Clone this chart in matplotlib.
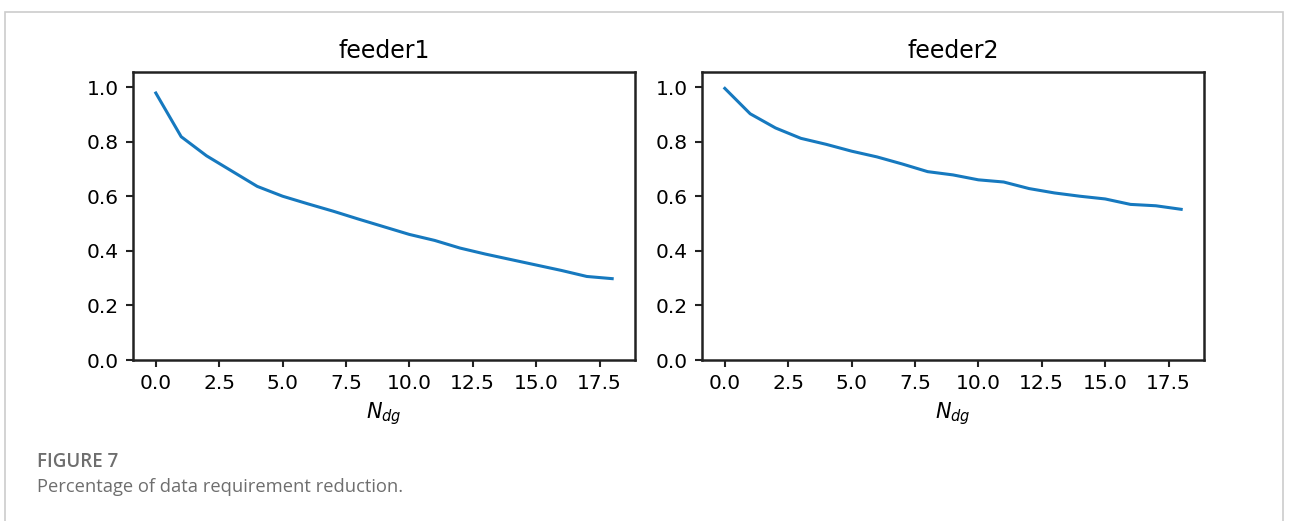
import matplotlib.pyplot as plt
from matplotlib.patches import Rectangle

# data
n_dg = list(range(19))
feeder1 = [0.978, 0.818, 0.748, 0.692, 0.636, 0.600, 0.572, 0.545, 0.516,
           0.488, 0.460, 0.438, 0.410, 0.388, 0.368, 0.348, 0.328, 0.306, 0.298]
feeder2 = [0.995, 0.902, 0.850, 0.812, 0.790, 0.765, 0.744, 0.718, 0.690,
           0.678, 0.660, 0.652, 0.628, 0.612, 0.600, 0.590, 0.570, 0.565, 0.552]
titles = ["feeder1", "feeder2"]
line_color = "#1679bf"

fig = plt.figure(figsize=(12.9, 5.21), dpi=100)

# light frame around the figure (open at the bottom)
fig.patches.append(Rectangle((5 / 1290, -0.05), 1278 / 1290, 1.05 - 12 / 521,
                             transform=fig.transFigure, fill=False,
                             edgecolor="#cccccc", linewidth=1.2))

axes_pos = [[133 / 1290, 1 - 360 / 521, 502 / 1290, 288 / 521],
            [702 / 1290, 1 - 360 / 521, 502 / 1290, 288 / 521]]

for pos, ys, title in zip(axes_pos, [feeder1, feeder2], titles):
    ax = fig.add_axes(pos)
    ax.plot(n_dg, ys, color=line_color, linewidth=2.2)
    ax.set_ylim(0, 1.055)
    ax.set_xticks([0, 2.5, 5, 7.5, 10, 12.5, 15, 17.5])
    ax.set_xticklabels(["0.0", "2.5", "5.0", "7.5", "10.0", "12.5", "15.0", "17.5"])
    ax.set_yticks([0, 0.2, 0.4, 0.6, 0.8, 1.0])
    ax.set_yticklabels(["0.0", "0.2", "0.4", "0.6", "0.8", "1.0"])
    ax.tick_params(labelsize=14.5, width=1.5, length=5, pad=5, color="#222222")
    for s in ax.spines.values():
        s.set_linewidth(1.8)
        s.set_color("#222222")
    ax.set_title(title, fontsize=17, pad=10)
    ax.set_xlabel("$N_{dg}$", fontsize=15, labelpad=5)

fig.text(37 / 1290, 1 - 462 / 521, "FIGURE 7", fontsize=13.5, color="#6e6e6e",
         family="Open Sans", fontweight="semibold", va="center")
fig.text(37 / 1290, 1 - 487 / 521, "Percentage of data requirement reduction.",
         fontsize=13.2, color="#6e6e6e", family="Open Sans", va="center")

fig.savefig("out.png", dpi=100)
